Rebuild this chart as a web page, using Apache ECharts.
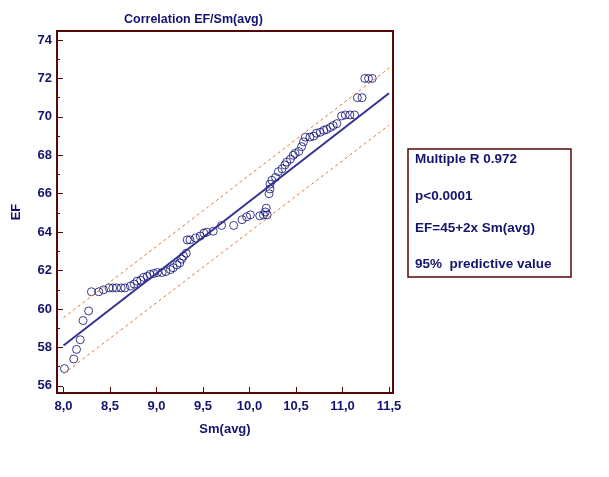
<!DOCTYPE html>
<html>
<head>
<meta charset="utf-8">
<script src="https://cdn.jsdelivr.net/npm/echarts@6/dist/echarts.min.js"></script>
<style>
    html, body { margin: 0; padding: 0; background: #fff; }
    #chart { width: 609px; height: 477px; }
</style>
</head>
<body>
<div id="chart"></div>
<script>
// scatter points
const smAvg = [
    8.01, 8.11, 8.14, 8.18, 8.21, 8.27, 8.30, 8.38, 8.43, 8.49,
    8.53, 8.57, 8.62, 8.66, 8.72, 8.76, 8.79, 8.83, 8.86, 8.90,
    8.93, 8.97, 9.01, 9.06, 9.10, 9.15, 9.18, 9.22, 9.25, 9.27,
    9.29, 9.32, 9.33, 9.36, 9.42, 9.47, 9.51, 9.54, 9.61, 9.70,
    9.83, 9.92, 9.97, 10.01, 10.11, 10.15, 10.19, 10.17, 10.18, 10.21,
    10.22, 10.22, 10.24, 10.28, 10.31, 10.35, 10.38, 10.40, 10.44, 10.47,
    10.49, 10.53, 10.56, 10.58, 10.60, 10.65, 10.69, 10.72, 10.76, 10.80,
    10.83, 10.87, 10.90, 10.94, 10.99, 11.03, 11.08, 11.13, 11.16, 11.21,
    11.24, 11.28, 11.32
];
const ef = [
    56.9, 57.4, 57.9, 58.4, 59.4, 59.9, 60.9, 60.9, 61.0, 61.1,
    61.1, 61.1, 61.1, 61.1, 61.2, 61.3, 61.45, 61.5, 61.65, 61.7,
    61.8, 61.85, 61.9, 61.9, 61.95, 62.05, 62.15, 62.3, 62.4, 62.6,
    62.75, 62.9, 63.6, 63.6, 63.7, 63.8, 63.95, 64.0, 64.05, 64.35,
    64.35, 64.65, 64.8, 64.9, 64.85, 64.9, 64.9, 65.05, 65.25, 66.0,
    66.25, 66.5, 66.7, 66.85, 67.15, 67.3, 67.5, 67.65, 67.8, 68.0,
    68.1, 68.2, 68.45, 68.7, 68.95, 68.95, 69.0, 69.15, 69.2, 69.3,
    69.35, 69.45, 69.55, 69.65, 70.05, 70.1, 70.1, 70.1, 71.0, 71.0,
    72.0, 72.0, 72.0
];

// regression line and 95% prediction band
const fitX = [8.0, 11.5];
const fitY = [58.1, 71.23];
const upperY = [59.55, 72.54];
const lowerY = [56.63, 69.57];

const xTicks = [8.0, 8.5, 9.0, 9.5, 10.0, 10.5, 11.0, 11.5];
const yTicks = [56, 58, 60, 62, 64, 66, 68, 70, 72, 74];
const yMinorTicks = [57, 59, 61, 63, 65, 67, 69, 71, 73];

const statsLines = ['Multiple R 0.972', 'p<0.0001', 'EF=45+2x Sm(avg)', '95%  predictive value'];
const statsY = [159, 196, 228, 264];

const navy = '#14146e';
const frame = '#560808';
const font = 'Liberation Sans, Arial, sans-serif';

const chart = echarts.init(document.getElementById('chart'));

const toPairs = (xs, ys) => xs.map((x, i) => [x, ys[i]]);

chart.setOption({
    animation: false,
    backgroundColor: '#fff',
    grid: {
        left: 57,
        top: 31,
        right: 216,
        bottom: 84,
        show: true,
        borderColor: frame,
        borderWidth: 2
    },
    xAxis: {
        type: 'value',
        min: 7.93,
        max: 11.543,
        name: 'Sm(avg)',
        nameLocation: 'middle',
        nameGap: 30,
        nameTextStyle: { color: navy, fontWeight: 'bold', fontSize: 13, fontFamily: font },
        axisLine: { show: true, lineStyle: { color: frame, width: 2 } },
        axisTick: { show: true, inside: true, length: 6, customValues: xTicks, lineStyle: { color: frame, width: 1 } },
        axisLabel: {
            customValues: xTicks,
            margin: 7,
            color: navy,
            fontWeight: 'bold',
            fontSize: 13,
            fontFamily: font,
            formatter: v => v.toFixed(1).replace('.', ',')
        },
        splitLine: { show: false }
    },
    yAxis: [{
        type: 'value',
        position: 'left',
        min: 55.63,
        max: 74.47,
        name: 'EF',
        nameLocation: 'middle',
        nameGap: 34,
        nameRotate: 90,
        nameTextStyle: { color: navy, fontWeight: 'bold', fontSize: 13, fontFamily: font },
        axisLine: { show: true, lineStyle: { color: frame, width: 2 } },
        axisTick: { show: true, inside: true, length: 6, customValues: yTicks, lineStyle: { color: frame, width: 1 } },
        axisLabel: {
            customValues: yTicks,
            margin: 5,
            color: navy,
            fontWeight: 'bold',
            fontSize: 13,
            fontFamily: font
        },
        splitLine: { show: false }
    }, {
        type: 'value',
        position: 'left',
        min: 55.63,
        max: 74.47,
        axisLine: { show: false },
        axisTick: { show: true, inside: true, length: 3, customValues: yMinorTicks, lineStyle: { color: frame, width: 1 } },
        axisLabel: { show: false },
        splitLine: { show: false }
    }],
    series: [{
        type: 'line',
        data: toPairs(fitX, upperY),
        showSymbol: false,
        silent: true,
        lineStyle: { color: '#e07a30', width: 1, type: [3, 3] }
    }, {
        type: 'line',
        data: toPairs(fitX, lowerY),
        showSymbol: false,
        silent: true,
        lineStyle: { color: '#e07a30', width: 1, type: [3, 3] }
    }, {
        type: 'line',
        data: toPairs(fitX, fitY),
        showSymbol: false,
        silent: true,
        lineStyle: { color: '#33338f', width: 2 }
    }, {
        type: 'scatter',
        data: toPairs(smAvg, ef),
        symbol: 'circle',
        symbolSize: 8,
        itemStyle: { color: 'rgba(255,255,255,0)', borderColor: '#0c0c70', borderWidth: 1 }
    }],
    graphic: [{
        type: 'text',
        left: 124,
        top: 13,
        style: { text: 'Correlation EF/Sm(avg)', fill: navy, font: 'bold 12.5px ' + font }
    }, {
        type: 'rect',
        shape: { x: 408, y: 149, width: 163, height: 128 },
        style: { fill: 'none', stroke: frame, lineWidth: 1.5 }
    }].concat(statsLines.map((t, i) => ({
        type: 'text',
        x: 415,
        y: statsY[i],
        style: { text: t, fill: navy, font: 'bold 13.5px ' + font, textVerticalAlign: 'middle' }
    })))
});
</script>
</body>
</html>
